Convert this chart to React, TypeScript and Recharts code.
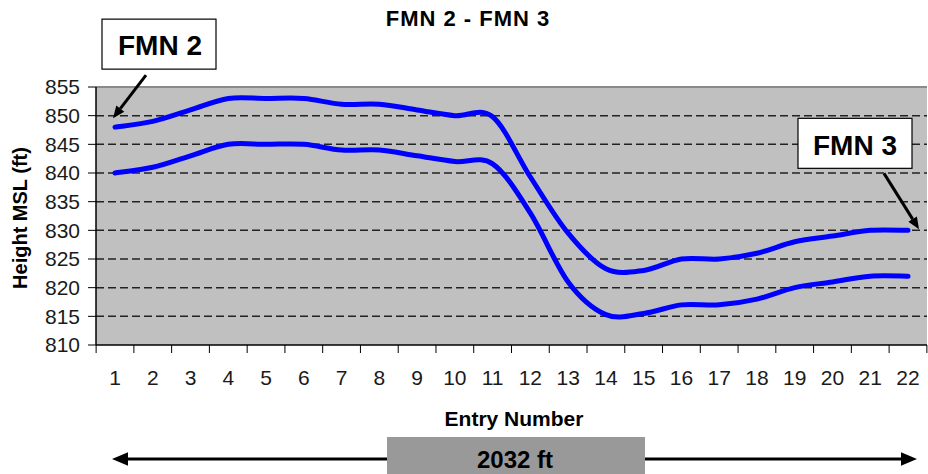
import React from "react";
import {
  LineChart,
  Line,
  XAxis,
  YAxis,
  CartesianGrid,
  ReferenceLine,
  ReferenceDot,
} from "recharts";

const FONT = "'Liberation Sans', Arial, Helvetica, sans-serif";

// entry numbers along the route
const entries = [
  "1", "2", "3", "4", "5", "6", "7", "8", "9", "10", "11",
  "12", "13", "14", "15", "16", "17", "18", "19", "20", "21", "22",
];

// upper and lower boundary heights (ft MSL)
const upperHeights = [
  848, 849, 851, 853, 853, 853, 852, 852, 851, 850, 849.8,
  839.3, 829.5, 823.3, 823, 825, 825, 826, 828, 829, 830, 830,
];
const lowerHeights = [
  840, 841, 843, 845, 845, 845, 844, 844, 843, 842, 841.6,
  833, 821, 815.3, 815.5, 817, 817, 818, 820, 821, 822, 822,
];

const yTicks = [810, 815, 820, 825, 830, 835, 840, 845, 850, 855];
const gridValues = [815, 820, 825, 830, 835, 840, 845, 850];

const data = entries.map((entry, i) => ({
  entry,
  upper: upperHeights[i],
  lower: lowerHeights[i],
}));

// smoothed line like the spreadsheet's "smoothed line" option (Catmull-Rom)
function smoothCurve(context: any) {
  let pts: number[][] = [];
  return {
    areaStart() {},
    areaEnd() {},
    lineStart() {
      pts = [];
    },
    point(x: number, y: number) {
      pts.push([+x, +y]);
    },
    lineEnd() {
      if (!pts.length) return;
      context.moveTo(pts[0][0], pts[0][1]);
      for (let i = 0; i < pts.length - 1; i++) {
        const p0 = pts[i - 1] || pts[i];
        const p1 = pts[i];
        const p2 = pts[i + 1];
        const p3 = pts[i + 2] || p2;
        context.bezierCurveTo(
          p1[0] + (p2[0] - p0[0]) / 6,
          p1[1] + (p2[1] - p0[1]) / 6,
          p2[0] - (p3[0] - p1[0]) / 6,
          p2[1] - (p3[1] - p1[1]) / 6,
          p2[0],
          p2[1]
        );
      }
    },
  };
}

function Arrow({ x1, y1, x2, y2, w = 3, head = 12 }: any) {
  const len = Math.hypot(x2 - x1, y2 - y1);
  const ux = (x2 - x1) / len;
  const uy = (y2 - y1) / len;
  const bx = x2 - ux * head;
  const by = y2 - uy * head;
  const hw = head * 0.42;
  return (
    <g>
      <line x1={x1} y1={y1} x2={bx} y2={by} stroke="#000" strokeWidth={w} />
      <polygon
        points={`${x2},${y2} ${bx - uy * hw},${by + ux * hw} ${bx + uy * hw},${by - ux * hw}`}
        fill="#000"
      />
    </g>
  );
}

function Callout({ cx, cy, label, box, text, tail, tip }: any) {
  return (
    <g>
      <rect
        x={cx + box[0]}
        y={cy + box[1]}
        width={114}
        height={50}
        fill="#fff"
        stroke="#000"
        strokeWidth={1.2}
      />
      <text
        x={cx + text[0]}
        y={cy + text[1]}
        textAnchor="middle"
        fontFamily={FONT}
        fontWeight="bold"
        fontSize={28}
        fill="#000"
      >
        {label}
      </text>
      <Arrow x1={cx + tail[0]} y1={cy + tail[1]} x2={cx + tip[0]} y2={cy + tip[1]} />
    </g>
  );
}

function EntryTick(props: any) {
  const { x, y, payload, index, visibleTicksCount, width } = props;
  const step = (width || 831) / (visibleTicksCount || entries.length);
  const last = index === visibleTicksCount - 1;
  return (
    <g>
      <line x1={x - step / 2} y1={y} x2={x - step / 2} y2={y + 8} stroke="#000" />
      {last && <line x1={x + step / 2} y1={y} x2={x + step / 2} y2={y + 8} stroke="#000" />}
      <text
        x={x}
        y={y + 40}
        textAnchor="middle"
        fontFamily={FONT}
        fontSize={21}
        fill="#1a1a1a"
      >
        {payload.value}
      </text>
    </g>
  );
}

export default function App() {
  return (
    <div
      style={{
        position: "absolute",
        left: 0,
        top: 0,
        width: 928,
        height: 474,
        background: "#fff",
        overflow: "hidden",
      }}
    >
      <LineChart
        width={928}
        height={474}
        data={data}
        margin={{ top: 87, right: 1, bottom: 0, left: 0 }}
      >
        <CartesianGrid
          fill="#C0C0C0"
          vertical={false}
          horizontalValues={gridValues}
          stroke="#222"
          strokeWidth={1.5}
          strokeDasharray="8 4"
        />
        <ReferenceLine y={855} stroke="#8a8a8a" strokeWidth={2} />
        <XAxis
          dataKey="entry"
          interval={0}
          height={129}
          tickSize={0}
          tickMargin={0}
          padding={{ left: 19, right: 19 }}
          tick={<EntryTick />}
          axisLine={{ stroke: "#000", strokeWidth: 1.5 }}
        />
        <YAxis
          domain={[810, 855]}
          ticks={yTicks}
          interval={0}
          width={96}
          tickSize={8}
          tickMargin={8}
          axisLine={{ stroke: "#000", strokeWidth: 1.5 }}
          tickLine={{ stroke: "#000" }}
          tick={{ fontSize: 21, fill: "#1a1a1a", fontFamily: FONT }}
          allowDataOverflow
        />
        <Line
          dataKey="upper"
          type={smoothCurve as any}
          stroke="#0000FF"
          strokeWidth={5}
          strokeLinecap="round"
          dot={false}
          isAnimationActive={false}
        />
        <Line
          dataKey="lower"
          type={smoothCurve as any}
          stroke="#0000FF"
          strokeWidth={5}
          strokeLinecap="round"
          dot={false}
          isAnimationActive={false}
        />
        <ReferenceDot
          x={entries[0]}
          y={upperHeights[0]}
          ifOverflow="visible"
          shape={(p: any) => (
            <Callout
              cx={p.cx}
              cy={p.cy}
              label="FMN 2"
              box={[-13, -108]}
              text={[45, -72]}
              tail={[31, -52]}
              tip={[-2, -9]}
            />
          )}
        />
        <ReferenceDot
          x={entries[entries.length - 1]}
          y={upperHeights[upperHeights.length - 1]}
          ifOverflow="visible"
          shape={(p: any) => (
            <Callout
              cx={p.cx}
              cy={p.cy}
              label="FMN 3"
              box={[-110, -112]}
              text={[-53, -75]}
              tail={[-24, -57]}
              tip={[11, -1]}
            />
          )}
        />
      </LineChart>

      <svg
        width={928}
        height={474}
        style={{ position: "absolute", left: 0, top: 0, pointerEvents: "none" }}
      >
        <text
          x={468}
          y={26}
          textAnchor="middle"
          fontFamily={FONT}
          fontWeight="bold"
          fontSize={22}
          letterSpacing={1}
          fill="#000"
        >
          FMN 2 - FMN 3
        </text>
        <text
          x={20}
          y={218}
          transform="rotate(-90 20 218)"
          textAnchor="middle"
          dominantBaseline="central"
          fontFamily={FONT}
          fontWeight="bold"
          fontSize={20}
          fill="#000"
        >
          Height MSL (ft)
        </text>
        <text
          x={514}
          y={426}
          textAnchor="middle"
          fontFamily={FONT}
          fontWeight="bold"
          fontSize={21}
          fill="#000"
        >
          Entry Number
        </text>
        <Arrow x1={500} y1={459} x2={112} y2={459} head={16} />
        <Arrow x1={500} y1={459} x2={917} y2={459} head={16} />
        <rect x={387} y={437} width={258} height={40} fill="#999999" />
        <text
          x={515}
          y={468}
          textAnchor="middle"
          fontFamily={FONT}
          fontWeight="bold"
          fontSize={24}
          fill="#000"
        >
          2032 ft
        </text>
      </svg>
    </div>
  );
}
